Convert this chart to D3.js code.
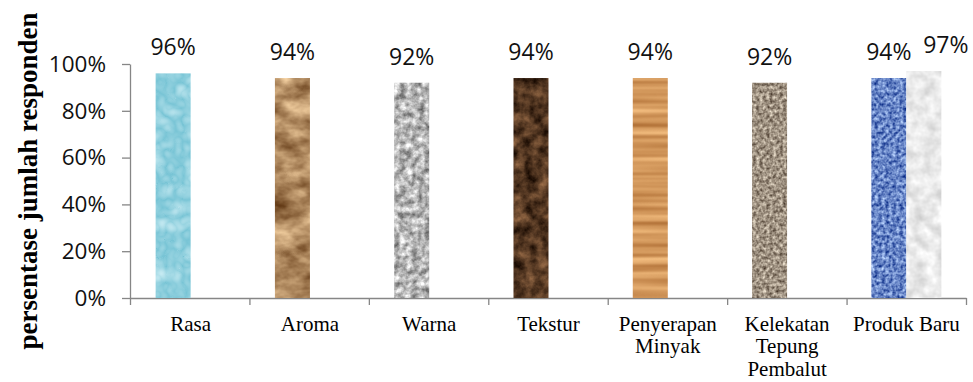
<!DOCTYPE html>
<html>
<head>
<meta charset="utf-8">
<script src="https://cdn.jsdelivr.net/npm/d3@7"></script>
<style>
  html, body { margin: 0; padding: 0; background: #fff; }
  svg { display: block; }
</style>
</head>
<body>
<svg id="chart" width="973" height="382"></svg>
<script>
// Categories (each split into the lines shown under the axis)
const categories = ["Rasa", "Aroma", "Warna", "Tekstur", "Penyerapan Minyak", "Kelekatan Tepung Pembalut", "Produk Baru"];
const categoryLines = [["Rasa"], ["Aroma"], ["Warna"], ["Tekstur"], ["Penyerapan", "Minyak"], ["Kelekatan", "Tepung", "Pembalut"], ["Produk Baru"]];

// Percentage of respondents, two series (second one only filled for "Produk Baru")
const series1 = [96, 94, 92, 94, 94, 92, 94];
const series2 = [null, null, null, null, null, null, 97];

// Y axis ticks
const yTicks = [0, 20, 40, 60, 80, 100];

const yTitle = "persentase jumlah responden";

// Texture look of each bar: [light, dark, noise type, base frequency, octaves, contrast, seed]
const textures1 = [
  ["#d4f1f7", "#80c8d8", "turbulence", "0.06", 2, 1.2, 3],        // water drops
  ["#e6c294", "#7a522c", "fractalNoise", "0.03 0.05", 4, 2.2, 7], // brown paper
  ["#f0f0f0", "#7a7a7a", "fractalNoise", "0.16", 3, 2.0, 11],     // granite
  ["#80593a", "#28160a", "fractalNoise", "0.08", 4, 2.2, 5],      // dark fabric
  ["#f2bc7e", "#b27238", "fractalNoise", "0.003 0.14", 2, 1.7, 2], // oak wood
  ["#d8ccba", "#66584a", "fractalNoise", "0.3", 2, 2.0, 9],       // sand
  ["#a2bdee", "#2a4a9c", "fractalNoise", "0.28", 2, 2.2, 4]       // denim
];
const textures2 = [null, null, null, null, null, null,
  ["#ffffff", "#d4d4d4", "fractalNoise", "0.08", 3, 1.7, 6]       // white marble
];

const svg = d3.select("#chart");
const defs = svg.append("defs");

const plot = { left: 131, right: 966, top: 64, bottom: 298 };

const x0 = d3.scaleBand()
  .domain(categories)
  .range([plot.left, plot.right])
  .paddingInner(0.413)
  .paddingOuter(0.2065);

const x1 = d3.scaleBand()
  .domain(["s1", "s2"])
  .range([0, x0.bandwidth()]);

const y = d3.scaleLinear().domain([0, 100]).range([plot.bottom, plot.top]);

// Build a noise texture filter clipped to the shape it is applied to
function makeTexture(id, t) {
  const [light, dark, type, freq, oct, gain, seed] = t;
  const L = d3.rgb(light), D = d3.rgb(dark);
  const row = (l, d) => {
    const a = (l - d) / 255 * gain;
    const b = d / 255 + (l - d) / 255 * (0.5 - 0.5 * gain);
    return `${a} 0 0 0 ${b}`;
  };
  const f = defs.append("filter")
    .attr("id", id)
    .attr("x", 0).attr("y", 0).attr("width", 1).attr("height", 1)
    .attr("color-interpolation-filters", "sRGB");
  f.append("feTurbulence")
    .attr("type", type)
    .attr("baseFrequency", freq)
    .attr("numOctaves", oct)
    .attr("seed", seed)
    .attr("result", "noise");
  f.append("feColorMatrix")
    .attr("in", "noise")
    .attr("type", "matrix")
    .attr("values", [row(L.r, D.r), row(L.g, D.g), row(L.b, D.b), "0 0 0 0 1"].join(" "))
    .attr("result", "tex");
  f.append("feComposite")
    .attr("in", "tex")
    .attr("in2", "SourceGraphic")
    .attr("operator", "in");
}

// Axes
const axisColor = "#868686";
const numFont = "'Open Sans', sans-serif";

const yAxis = svg.append("g")
  .attr("transform", `translate(${plot.left - 1},0)`)
  .call(d3.axisLeft(y).tickValues(yTicks).tickSize(8).tickSizeOuter(0).tickPadding(16)
    .tickFormat(d => d + "%"));
yAxis.select(".domain").attr("stroke", axisColor).attr("stroke-width", 1.3);
yAxis.selectAll(".tick line").attr("stroke", axisColor).attr("stroke-width", 1.3);
yAxis.selectAll(".tick text")
  .attr("fill", "#111")
  .style("font-family", numFont)
  .style("font-size", "22.5px");

const xb = d3.scaleLinear().domain([0, categories.length]).range([plot.left - 1, plot.right]);
const xAxis = svg.append("g")
  .attr("transform", `translate(0,${plot.bottom})`)
  .call(d3.axisBottom(xb).tickValues(d3.range(categories.length + 1)).tickSize(7).tickSizeOuter(0)
    .tickFormat(""));
xAxis.select(".domain").attr("stroke", axisColor).attr("stroke-width", 1.3);
xAxis.selectAll(".tick line").attr("stroke", axisColor).attr("stroke-width", 1.3);

// Bars
const bars = [];
categories.forEach((c, i) => {
  if (series1[i] != null) bars.push({ cat: c, i, key: "s1", v: series1[i], tex: textures1[i], dx: 0 });
  if (series2[i] != null) bars.push({ cat: c, i, key: "s2", v: series2[i], tex: textures2[i], dx: 22 });
});

bars.forEach((b, k) => makeTexture(`tex${k}`, b.tex));

svg.append("g").selectAll("rect")
  .data(bars)
  .join("rect")
  .attr("x", d => x0(d.cat) + x1(d.key))
  .attr("width", x1.bandwidth())
  .attr("y", d => y(d.v))
  .attr("height", d => y(0) - y(d.v))
  .attr("fill", d => d.tex[0])
  .attr("filter", (d, k) => `url(#tex${k})`);

// Value labels
svg.append("g").selectAll("text")
  .data(bars)
  .join("text")
  .attr("x", d => x0(d.cat) + x1(d.key) + x1.bandwidth() / 2 + d.dx)
  .attr("y", d => y(d.v) - 18)
  .attr("text-anchor", "middle")
  .attr("fill", "#111")
  .style("font-family", numFont)
  .style("font-size", "23px")
  .text(d => d.v + "%");

// Category labels
const catG = svg.append("g")
  .style("font-family", "'Liberation Serif', 'Times New Roman', serif")
  .style("font-size", "21px")
  .attr("fill", "#000");
categoryLines.forEach((lines, i) => {
  const cx = x0(categories[i]) + x0.bandwidth() / 2;
  const t = catG.append("text").attr("text-anchor", "middle");
  lines.forEach((ln, j) => {
    t.append("tspan").attr("x", cx).attr("y", 330.5 + j * 22.6).text(ln);
  });
});

// Y axis title
svg.append("text")
  .attr("transform", `translate(37,${(plot.top + plot.bottom) / 2}) rotate(-90)`)
  .attr("text-anchor", "middle")
  .attr("fill", "#000")
  .style("font-family", "'Liberation Serif', 'Times New Roman', serif")
  .style("font-weight", "bold")
  .style("font-size", "27px")
  .text(yTitle);
</script>
</body>
</html>
